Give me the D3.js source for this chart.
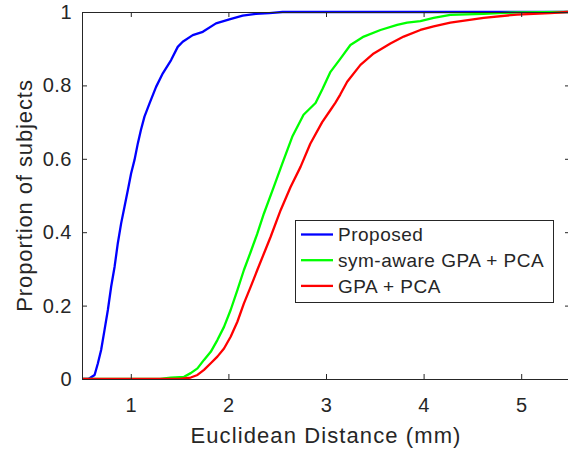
<!DOCTYPE html>
<html>
<head>
<meta charset="utf-8">
<script src="https://cdn.jsdelivr.net/npm/d3@7"></script>
<style>
  html, body { margin: 0; padding: 0; background: #fff; }
  svg { display: block; font-family: "Liberation Sans", Arial, Helvetica, sans-serif; }
</style>
</head>
<body>
<svg id="chart" width="568" height="452"></svg>
<script>
// Empirical CDFs of the Euclidean landmark error for three methods
const seriesNames = ["Proposed", "sym-aware GPA + PCA", "GPA + PCA"];
const seriesColors = ["#0000ff", "#00ff00", "#ff0000"];

const proposedX = [0.5, 0.55, 0.578, 0.629, 0.663, 0.696, 0.731, 0.765, 0.799, 0.834, 0.867, 0.901, 0.936, 0.970, 1.003, 1.038, 1.072, 1.103, 1.140, 1.192, 1.259, 1.328, 1.413, 1.481, 1.532, 1.635, 1.738, 1.873, 2.010, 2.146, 2.282, 2.419, 2.555, 3.0, 4.0, 5.5];
const proposedY = [0, 0, 0.002, 0.011, 0.043, 0.079, 0.134, 0.188, 0.252, 0.306, 0.370, 0.424, 0.470, 0.515, 0.560, 0.597, 0.642, 0.678, 0.715, 0.751, 0.796, 0.833, 0.869, 0.905, 0.919, 0.937, 0.946, 0.969, 0.980, 0.990, 0.995, 0.997, 1.0, 1.0, 1.0, 1.0];

const symGpaX = [0.5, 1.30, 1.409, 1.546, 1.614, 1.683, 1.750, 1.819, 1.887, 1.955, 2.023, 2.092, 2.159, 2.228, 2.296, 2.364, 2.466, 2.552, 2.654, 2.770, 2.893, 2.964, 3.046, 3.148, 3.250, 3.387, 3.558, 3.729, 3.831, 3.967, 4.103, 4.274, 4.615, 4.956, 5.468, 5.5];
const symGpaY = [0, 0, 0.004, 0.006, 0.016, 0.029, 0.052, 0.074, 0.106, 0.142, 0.188, 0.242, 0.297, 0.346, 0.396, 0.451, 0.524, 0.587, 0.660, 0.720, 0.752, 0.790, 0.837, 0.873, 0.910, 0.933, 0.951, 0.965, 0.971, 0.975, 0.984, 0.992, 0.995, 0.999, 1.0, 1.0];

const gpaX = [0.5, 1.50, 1.614, 1.683, 1.750, 1.819, 1.887, 1.955, 2.023, 2.092, 2.159, 2.228, 2.296, 2.364, 2.432, 2.535, 2.637, 2.739, 2.839, 2.961, 3.046, 3.097, 3.146, 3.217, 3.353, 3.489, 3.660, 3.796, 3.967, 4.103, 4.274, 4.615, 4.956, 5.297, 5.468, 5.5];
const gpaY = [0, 0, 0.004, 0.011, 0.025, 0.043, 0.061, 0.083, 0.115, 0.156, 0.206, 0.251, 0.297, 0.342, 0.387, 0.460, 0.523, 0.578, 0.641, 0.700, 0.733, 0.753, 0.775, 0.810, 0.856, 0.887, 0.914, 0.933, 0.951, 0.961, 0.971, 0.984, 0.993, 0.997, 1.0, 1.0];

const xTicks = [1, 2, 3, 4, 5];
const yTicks = [0, 0.2, 0.4, 0.6, 0.8, 1];
const xLabel = "Euclidean Distance (mm)";
const yLabel = "Proportion of subjects";

const series = [
  { name: seriesNames[0], color: seriesColors[0], xs: proposedX, ys: proposedY },
  { name: seriesNames[1], color: seriesColors[1], xs: symGpaX, ys: symGpaY },
  { name: seriesNames[2], color: seriesColors[2], xs: gpaX, ys: gpaY }
];

const ink = "#262626";
const svg = d3.select("#chart");
const plot = { left: 82, right: 570, top: 12, bottom: 379 };

const x = d3.scaleLinear().domain([0.5, 5.5]).range([plot.left, plot.right]);
const y = d3.scaleLinear().domain([0, 1]).range([plot.bottom, plot.top]);

svg.append("rect").attr("width", 568).attr("height", 452).attr("fill", "#fff");

// Curves, clipped to the axes box
svg.append("clipPath").attr("id", "plotClip")
  .append("rect")
  .attr("x", plot.left).attr("y", plot.top - 2)
  .attr("width", plot.right - plot.left).attr("height", plot.bottom - plot.top + 3);

const line = d3.line().x(d => x(d[0])).y(d => y(d[1]));
const curves = svg.append("g").attr("clip-path", "url(#plotClip)");
series.forEach(s => {
  curves.append("path")
    .datum(d3.zip(s.xs, s.ys))
    .attr("d", line)
    .attr("fill", "none")
    .attr("stroke", s.color)
    .attr("stroke-width", 2.3)
    .attr("stroke-linejoin", "round");
});

// Axes with inward ticks on all four sides (box on)
const tickLen = 5;
const styleAxis = g => {
  g.select(".domain").attr("stroke", ink).attr("stroke-width", 1);
  g.selectAll(".tick line").attr("stroke", ink).attr("stroke-width", 1);
  g.selectAll(".tick text").attr("fill", ink)
    .style("font-size", "20px")
    .style("letter-spacing", "0.5px")
    .style("font-family", "'Liberation Sans', Arial, sans-serif");
};

svg.append("g")
  .attr("transform", `translate(0,${plot.bottom})`)
  .call(d3.axisBottom(x).tickValues(xTicks).tickSizeInner(-tickLen).tickSizeOuter(0).tickPadding(19).tickFormat(d3.format("d")))
  .call(styleAxis);

svg.append("g")
  .attr("transform", `translate(0,${plot.top})`)
  .call(d3.axisTop(x).tickValues(xTicks).tickSizeInner(-tickLen).tickSizeOuter(0).tickFormat(""))
  .call(styleAxis);

svg.append("g")
  .attr("transform", `translate(${plot.left},0)`)
  .call(d3.axisLeft(y).tickValues(yTicks).tickSizeInner(-tickLen).tickSizeOuter(0).tickPadding(10).tickFormat(d => d === 0 || d === 1 ? String(d) : d3.format(".1f")(d)))
  .call(styleAxis);

svg.append("g")
  .attr("transform", `translate(${plot.right},0)`)
  .call(d3.axisRight(y).tickValues(yTicks).tickSizeInner(-tickLen).tickSizeOuter(0).tickFormat(""))
  .call(styleAxis);

// Axis titles
svg.append("text")
  .attr("x", (plot.left + plot.right) / 2).attr("y", 443)
  .attr("text-anchor", "middle")
  .attr("fill", ink)
  .style("font-size", "22px")
  .style("letter-spacing", "1.1px")
  .text(xLabel);

svg.append("text")
  .attr("transform", `translate(32,${(plot.top + plot.bottom) / 2}) rotate(-90)`)
  .attr("text-anchor", "middle")
  .attr("fill", ink)
  .style("font-size", "22px")
  .style("letter-spacing", "0.9px")
  .text(yLabel);

// Legend
const legend = svg.append("g").attr("transform", "translate(295,220)");
legend.append("rect")
  .attr("x", 0.5).attr("y", 0.5)
  .attr("width", 258).attr("height", 82)
  .attr("fill", "#fff")
  .attr("stroke", ink).attr("stroke-width", 1);

series.forEach((s, i) => {
  const cy = 14.5 + i * 25.7;
  legend.append("line")
    .attr("x1", 6).attr("x2", 38)
    .attr("y1", cy).attr("y2", cy)
    .attr("stroke", s.color).attr("stroke-width", 2.3);
  legend.append("text")
    .attr("x", 43).attr("y", cy)
    .attr("dy", "0.35em")
    .attr("fill", ink)
    .style("font-size", "19px")
    .style("letter-spacing", "0.5px")
    .text(s.name);
});
</script>
</body>
</html>
